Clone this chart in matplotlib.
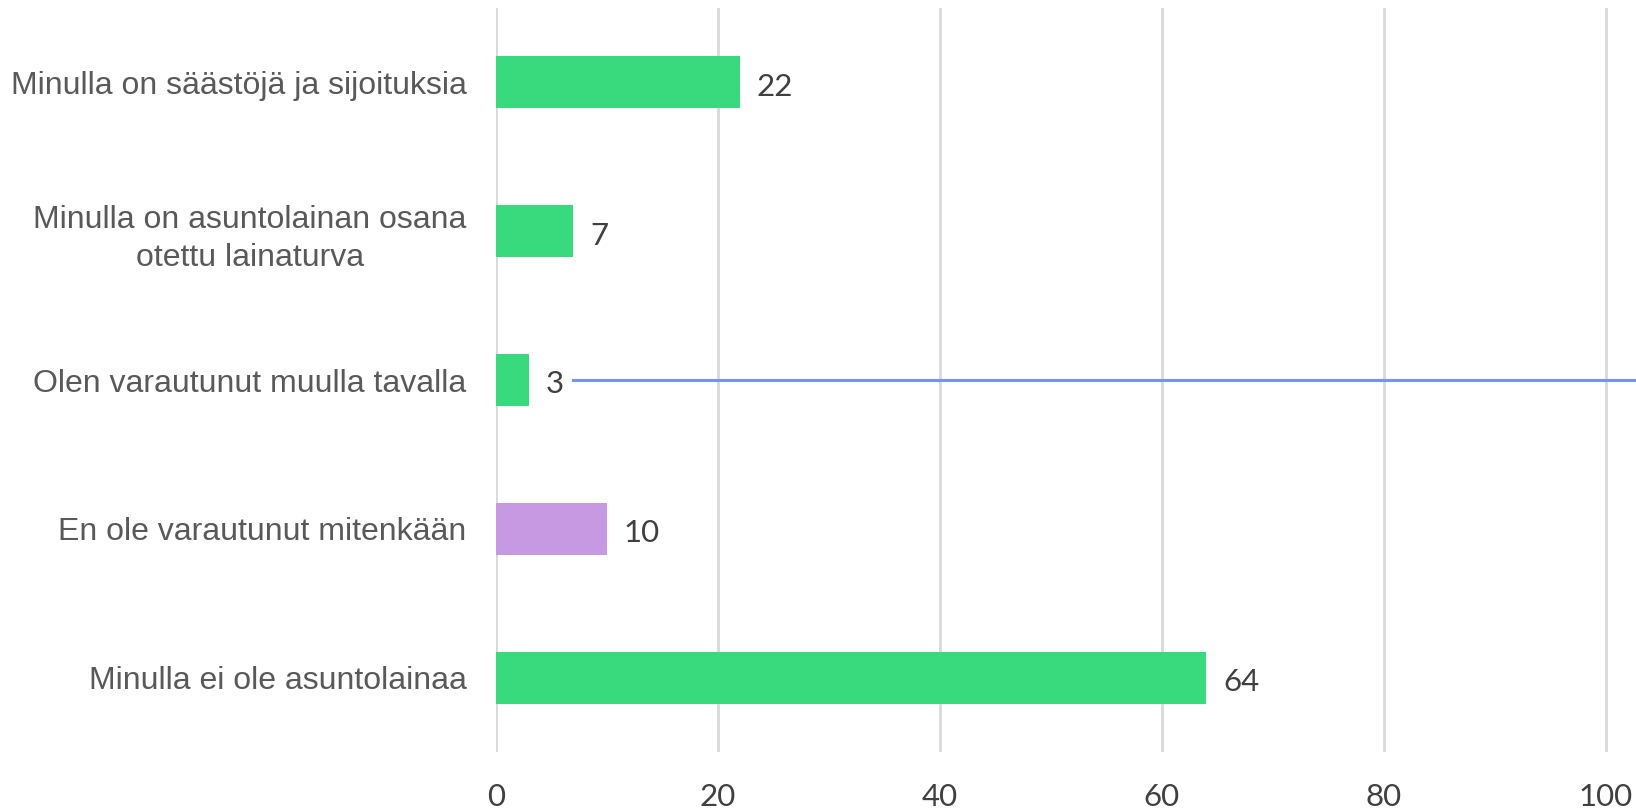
import matplotlib
matplotlib.use('Agg')
import matplotlib.pyplot as plt

# vastaukset (%)
categories = [
    "Minulla on säästöjä ja sijoituksia",
    "Minulla on asuntolainan osana\notettu lainaturva",
    "Olen varautunut muulla tavalla",
    "En ole varautunut mitenkään",
    "Minulla ei ole asuntolainaa",
]
values = [22, 7, 3, 10, 64]
colors = ["#39DA7D", "#39DA7D", "#39DA7D", "#C799E3", "#39DA7D"]
xticks = [0, 20, 40, 60, 80, 100]

# sininen viiva kolmannen rivin kohdalla
line_row = 2
line_start = 7

fig = plt.figure(figsize=(16.36, 8.10), dpi=100)
ax = fig.add_axes([0.303, 0.0716, 0.697, 0.9185])

y = list(range(len(categories)))
ax.barh(y, values, height=0.35, color=colors, zorder=3)

ax.set_xlim(0, 102.7)
ax.set_ylim(len(categories) - 0.5, -0.5)

ax.plot([line_start, 110], [line_row, line_row], color="#7295F2", lw=2.2, zorder=4, clip_on=True)

num_font = dict(family=["Lato", "DejaVu Sans"], fontweight="normal", color="#404040", fontsize=22.5)
for yi, v in zip(y, values):
    ax.text(v + 1.5, yi + 0.03, str(v), va="center", ha="left", **num_font)

ax.set_yticks(y)
ax.set_yticklabels(categories, family=["Liberation Sans", "DejaVu Sans"], fontsize=23,
                   color="#595959", multialignment="center", linespacing=1.35)
ax.set_xticks(xticks)
ax.set_xticklabels([str(t) for t in xticks], **num_font)

ax.tick_params(axis="y", length=0, pad=21)
ax.tick_params(axis="x", length=0, pad=22)
ax.grid(axis="x", color="#D9D9D9", lw=2, zorder=0)
for s in ax.spines.values():
    s.set_visible(False)

plt.savefig("out.png", dpi=100)
